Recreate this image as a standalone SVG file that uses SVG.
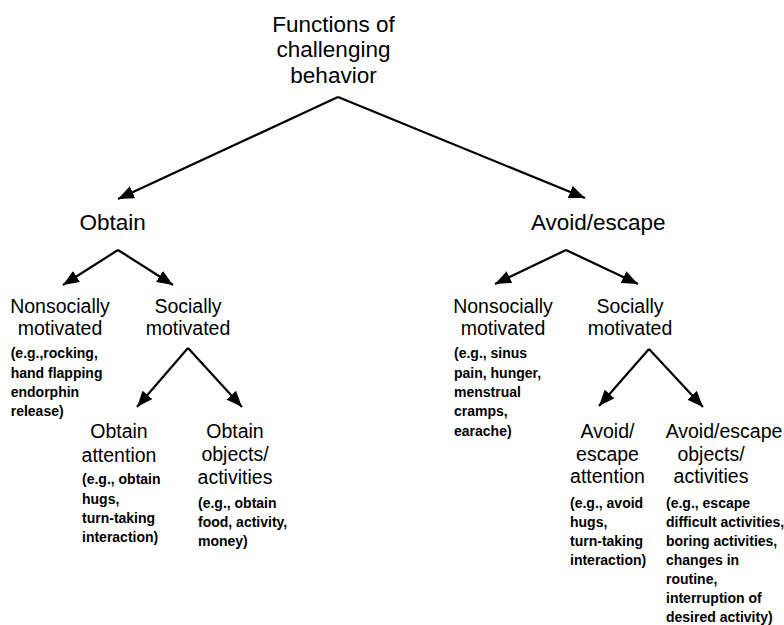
<svg xmlns="http://www.w3.org/2000/svg" width="784" height="625" viewBox="0 0 784 625">
<style>
text { font-family: "Liberation Sans", Arial, Helvetica, sans-serif; fill: #000; }
.t0 { font-size: 22.5px; text-anchor: middle; }
.t1 { font-size: 22.5px; text-anchor: middle; }
.t2 { font-size: 19.5px; text-anchor: middle; }
.ex { font-size: 14px; font-weight: bold; }
.conn path { fill: none; stroke: #000; stroke-width: 2.2; marker-end: url(#ah); }
</style>
<defs>
<marker id="ah" markerUnits="userSpaceOnUse" markerWidth="17" markerHeight="14" refX="16" refY="6.5" orient="auto">
<path d="M0,0 L16,6.5 L0,13 Z" fill="#000"/>
</marker>
</defs>
<rect width="784" height="625" fill="#fff"/>
<g class="conn" id="connectors">
<path d="M338,97 L118,199"/>
<path d="M338,97 L585,198"/>
<path d="M118,250 L63,285"/>
<path d="M118,250 L173,285"/>
<path d="M566,250 L495,284"/>
<path d="M566,250 L638,284"/>
<path d="M188,348 L137,407"/>
<path d="M188,348 L242,407"/>
<path d="M649,349 L599,406"/>
<path d="M649,349 L703,407"/>
</g>
<g id="root">
<text class="t0" x="333.5" y="31.7">Functions of</text>
<text class="t0" x="333.5" y="56.7">challenging</text>
<text class="t0" x="333.5" y="82.7">behavior</text>
</g>
<g id="obtain">
<text class="t1" x="112.7" y="230">Obtain</text>
</g>
<g id="avoid">
<text class="t1" x="598.3" y="230">Avoid/escape</text>
</g>
<g id="obtain-nonsocial">
<text class="t2" x="60" y="313">Nonsocially</text>
<text class="t2" x="60" y="335">motivated</text>
<text class="ex" x="10.7" y="358">(e.g.,rocking,</text>
<text class="ex" x="10.7" y="377.5">hand flapping</text>
<text class="ex" x="10.7" y="397">endorphin</text>
<text class="ex" x="10.7" y="416">release)</text>
</g>
<g id="obtain-social">
<text class="t2" x="188" y="313">Socially</text>
<text class="t2" x="188" y="335">motivated</text>
</g>
<g id="obtain-attention">
<text class="t2" x="119" y="438">Obtain</text>
<text class="t2" x="119" y="461.5">attention</text>
<text class="ex" x="82" y="484">(e.g., obtain</text>
<text class="ex" x="82" y="503.5">hugs,</text>
<text class="ex" x="82" y="523">turn-taking</text>
<text class="ex" x="82" y="542">interaction)</text>
</g>
<g id="obtain-objects">
<text class="t2" x="235" y="438">Obtain</text>
<text class="t2" x="235" y="461">objects/</text>
<text class="t2" x="235" y="483.5">activities</text>
<text class="ex" x="198" y="507.5">(e.g., obtain</text>
<text class="ex" x="198" y="527">food, activity,</text>
<text class="ex" x="198" y="546">money)</text>
</g>
<g id="avoid-nonsocial">
<text class="t2" x="503" y="313">Nonsocially</text>
<text class="t2" x="503" y="335">motivated</text>
<text class="ex" x="454" y="358">(e.g., sinus</text>
<text class="ex" x="454" y="377.5">pain, hunger,</text>
<text class="ex" x="454" y="397">menstrual</text>
<text class="ex" x="454" y="416">cramps,</text>
<text class="ex" x="454" y="435.5">earache)</text>
</g>
<g id="avoid-social">
<text class="t2" x="630" y="313">Socially</text>
<text class="t2" x="630" y="335">motivated</text>
</g>
<g id="avoid-attention">
<text class="t2" x="607.5" y="438">Avoid/</text>
<text class="t2" x="607.5" y="461">escape</text>
<text class="t2" x="607.5" y="483">attention</text>
<text class="ex" x="570" y="507.5">(e.g., avoid</text>
<text class="ex" x="570" y="526.5">hugs,</text>
<text class="ex" x="570" y="545.5">turn-taking</text>
<text class="ex" x="570" y="564.5">interaction)</text>
</g>
<g id="avoid-objects">
<text class="t2" x="724" y="438">Avoid/escape</text>
<text class="t2" x="711" y="461">objects/</text>
<text class="t2" x="711" y="483">activities</text>
<text class="ex" x="666" y="507.5">(e.g., escape</text>
<text class="ex" x="666" y="526.7">difficult activities,</text>
<text class="ex" x="666" y="545.8">boring activities,</text>
<text class="ex" x="666" y="565">changes in</text>
<text class="ex" x="666" y="584">routine,</text>
<text class="ex" x="666" y="603">interruption of</text>
<text class="ex" x="666" y="622">desired activity)</text>
</g>
</svg>
